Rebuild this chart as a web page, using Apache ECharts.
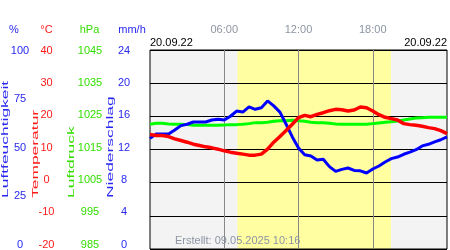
<!DOCTYPE html>
<html>
<head>
<meta charset="utf-8">
<script src="https://cdn.jsdelivr.net/npm/echarts@6/dist/echarts.min.js"></script>
<style>
html,body{margin:0;padding:0;background:#fff;}
#chart{width:450px;height:250px;}
</style>
</head>
<body>
<div id="chart"></div>
<script>
// ---- data ----
const hours = [0,0.5,1,1.5,2,2.5,3,3.5,4,4.5,5,5.5,6,6.5,7,7.5,8,8.5,9,9.5,10,10.5,11,11.5,12,
  12.5,13,13.5,14,14.5,15,15.5,16,16.5,17,17.5,18,18.5,19,19.5,20,20.5,21,21.5,22,22.5,23,23.5,24];
const humidity = [55.6,57.8,57.8,57.8,59.8,62.0,62.7,63.8,63.8,63.8,64.8,65.2,64.8,66.7,69.3,68.8,71.4,70.2,71.0,74.4,71.9,68.8,62.7,56.3,50.8,
  47.4,46.7,44.7,45.1,41.4,39.0,40.0,40.7,39.5,39.3,38.2,40.2,41.7,43.7,45.4,46.2,47.6,48.7,49.9,51.8,52.6,53.8,54.9,56.3];
const temperature = [14.5,14.2,14.2,13.9,13.2,12.7,12.2,11.6,11.2,10.8,10.5,10.1,9.6,9.2,8.9,8.6,8.3,8.3,8.6,10.1,12.2,13.9,15.7,17.6,19.6,
  20.3,19.9,20.6,21.1,21.7,22.1,22.0,21.6,21.9,22.8,22.6,21.6,20.5,19.7,19.3,18.9,17.8,17.5,17.3,17.0,16.6,16.3,15.7,14.8];
const pressure = [1022.6,1022.9,1022.9,1022.7,1022.6,1022.6,1022.5,1022.3,1022.3,1022.3,1022.3,1022.3,1022.4,1022.5,1022.5,1022.6,1022.8,1023.1,1023.1,1023.2,1023.5,1023.7,1023.7,1023.8,1023.7,
  1023.5,1023.2,1023.1,1023.1,1022.9,1022.7,1022.6,1022.6,1022.6,1022.6,1022.6,1022.8,1023.0,1023.2,1023.4,1023.6,1023.9,1024.2,1024.5,1024.6,1024.7,1024.7,1024.7,1024.7];
const timeTicks = [6, 12, 18];
const timeTickLabels = ['06:00', '12:00', '18:00'];
const sunrise = 7.07, sunset = 19.47;
const dateLabel = '20.09.22';
const createdLabel = 'Erstellt: 09.05.2025 10:16';
const humidityTicks = {min: 0, max: 100, interval: 25};
const tempTicks = {min: -20, max: 40, interval: 10};
const pressureTicks = {min: 985, max: 1045, interval: 10};
const precipTicks = {min: 0, max: 24, interval: 4};

const FONT = '"Liberation Sans", Arial, sans-serif';
const BLUE = '#2828f0', RED = '#ff1a1a', GREEN = '#33dd00';

function pairs(vals){ return hours.map((h,i)=>[h, vals[i]]); }

const chart = echarts.init(document.getElementById('chart'), null, {renderer:'canvas'});

function labelAxis(t, color, margin){
  return {
    type:'value', gridIndex:1, position:'left', min:t.min, max:t.max, interval:t.interval,
    axisLine:{show:false}, axisTick:{show:false}, splitLine:{show:false},
    axisLabel:{show:true, color:color, fontSize:11, fontFamily:FONT, align:'center', margin:margin,
      showMinLabel:true, showMaxLabel:true, formatter:function(v){ return String(v); }}
  };
}

function vtext(str, x, yBottom, color){
  return {type:'text', x:x, y:yBottom, rotation:Math.PI/2, scaleX:2.05, scaleY:1,
    style:{text:str, fill:color, font:'8.5px ' + FONT, align:'left', verticalAlign:'middle'}};
}
function htext(str, x, y, color, align){
  return {type:'text', x:x, y:y,
    style:{text:str, fill:color, font:'11px ' + FONT, align:align||'center', verticalAlign:'middle'}};
}

const option = {
  animation:false,
  backgroundColor:'#ffffff',
  grid:[
    {left:150, top:50, width:302, height:199, show:true, backgroundColor:'transparent', borderColor:'#000', borderWidth:1},
    {left:150, top:50.5, width:302, height:194.1, show:false}
  ],
  xAxis:[
    {type:'value', gridIndex:0, min:0, max:24, interval:6, position:'top',
      axisLine:{show:false}, axisTick:{show:false}, splitLine:{show:false},
      axisLabel:{show:true, color:'#8d95a3', fontSize:11, fontFamily:FONT, margin:15,
        formatter:function(v){ const k = timeTicks.indexOf(v); return k>=0 ? timeTickLabels[k] : ''; }}},
    {type:'value', gridIndex:1, min:0, max:24, show:false}
  ],
  yAxis:[
    {type:'value', gridIndex:0, min:humidityTicks.min, max:humidityTicks.max, show:false},
    {type:'value', gridIndex:0, min:tempTicks.min, max:tempTicks.max, interval:tempTicks.interval,
      axisLine:{show:false}, axisTick:{show:false}, axisLabel:{show:false},
      splitLine:{show:true, lineStyle:{color:'#000', width:1}}},
    {type:'value', gridIndex:0, min:pressureTicks.min, max:pressureTicks.max, show:false},
    labelAxis(humidityTicks, BLUE, 130),
    labelAxis(tempTicks, RED, 103.5),
    labelAxis(pressureTicks, GREEN, 60),
    labelAxis(precipTicks, BLUE, 26)
  ],
  series:[
    {name:'Luftdruck', type:'line', xAxisIndex:0, yAxisIndex:2, data:pairs(pressure),
      showSymbol:false, lineStyle:{color:'#00ff00', width:3}, z:3,
      markArea:{silent:true, z:-1, data:[
        [{xAxis:0, itemStyle:{color:'#f3f3f3'}}, {xAxis:24}],
        [{xAxis:sunrise, itemStyle:{color:'#ffffa2'}}, {xAxis:sunset}]
      ]},
      markLine:{silent:true, z:1, symbol:'none', label:{show:false},
        lineStyle:{color:'#888888', width:1, type:'solid'},
        data:timeTicks.map(t=>({xAxis:t}))}
    },
    {name:'Luftfeuchtigkeit', type:'line', xAxisIndex:0, yAxisIndex:0, data:pairs(humidity),
      showSymbol:false, lineStyle:{color:'#0000ff', width:3}, z:4},
    {name:'Temperatur', type:'line', xAxisIndex:0, yAxisIndex:1, data:pairs(temperature),
      showSymbol:false, lineStyle:{color:'#ff0000', width:3.5}, z:5}
  ],
  graphic:[
    htext('%', 14, 30, BLUE),
    htext('°C', 46.5, 30, RED),
    htext('hPa', 89.5, 30, GREEN),
    htext('mm/h', 132, 30, BLUE),
    vtext('Luftfeuchtigkeit', 5.5, 198, BLUE),
    vtext('Temperatur', 35.5, 198, RED),
    vtext('Luftdruck', 72, 198, GREEN),
    vtext('Niederschlag', 111, 198, BLUE),
    htext(dateLabel, 150, 43, '#000', 'left'),
    htext(dateLabel, 447, 43, '#000', 'right'),
    {type:'text', x:175, y:241, z:10, style:{text:createdLabel, fill:'#8d95a3', font:'11px ' + FONT, align:'left', verticalAlign:'middle'}}
  ]
};
chart.setOption(option);
</script>
</body>
</html>
